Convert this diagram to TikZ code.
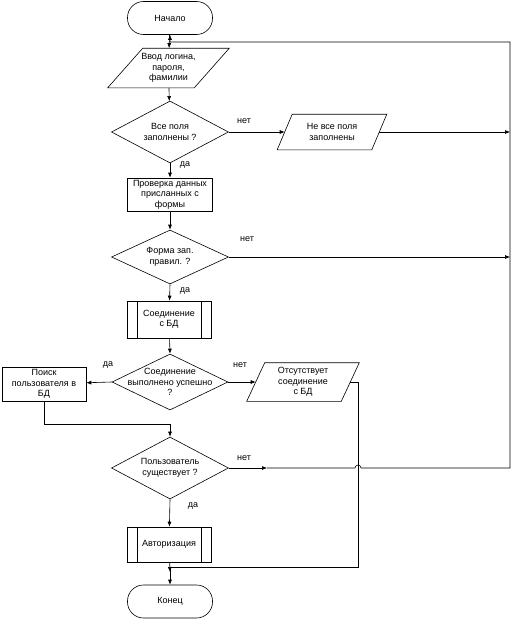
\documentclass[tikz,border=0pt]{standalone}
\usepackage{fontspec}
\setmainfont{Liberation Sans}
\usetikzlibrary{shapes.geometric,arrows.meta}
% slanted frame round an input/output node
\newcommand\ioframe[2]{\draw ([xshift=#2]#1.north west) -- ([xshift=#2]#1.north east) -- ([xshift=-#2]#1.south east) -- ([xshift=-#2]#1.south west) -- cycle;}
\begin{document}
\begin{tikzpicture}[x=1pt,y=-1pt,line width=0.6pt,
	font=\fontsize{9}{10.5}\selectfont,
	every node/.style={align=center},
	arr/.style={-{Latex[length=5pt,width=4pt]}},
	txt/.style={align=center,inner sep=0pt},
	term/.style={draw,rounded corners=16pt,minimum width=85pt,minimum height=33pt,inner sep=0pt},
	proc/.style={draw,minimum width=85pt,minimum height=33pt,inner sep=0pt},
	subproc/.style={draw,minimum width=84pt,minimum height=37pt,inner sep=0pt,
		path picture={\draw ([xshift=10pt]path picture bounding box.north west) -- ([xshift=10pt]path picture bounding box.south west)
			([xshift=-10pt]path picture bounding box.north east) -- ([xshift=-10pt]path picture bounding box.south east);}},
	dec/.style={draw,diamond,minimum width=117pt,minimum height=62pt,inner sep=0pt},
	io/.style={inner sep=0pt},
	]
			\useasboundingbox (0,0) rectangle (524,621);

			\node[term] (start) at (170,18) {Начало};
			\coordinate (j1) at (170,42);
			\node[io,minimum width=86pt,minimum height=39pt] (input) at (168.5,68) {Ввод логина,\\пароля,\\фамилии};
			\ioframe{input}{17.5pt}
			\node[dec,label={[txt]center:Все поля\\заполнены ?}] (d1) at (170,132) {};
			\node[io,minimum width=94pt,minimum height=35pt] (io2) at (332,132) {Не все поля\\заполнены};
			\ioframe{io2}{7.5pt}
			\node[proc] (check) at (170,194.5) {Проверка данных\\присланных с\\формы};
			\node[dec,minimum height=54pt,label={[txt]center:Форма зап.\\правил. ?}] (d2) at (170,257) {};
			\node[subproc] (conn) at (169,319.5) {Соединение\\с БД};
			\node[dec,minimum width=116pt,minimum height=56pt,label={[txt]center:Соединение\\выполнено успешно\\?}] (d3) at (170,382) {};
			\node[proc,minimum width=84pt,minimum height=34pt] (find) at (44,384) {Поиск\\пользователя в\\БД};
			\node[io,minimum width=94pt,minimum height=38pt] (io3) at (303,382) {Отсутствует\\соединение\\с БД};
			\ioframe{io3}{9pt}
			\node[dec,label={[txt]center:Пользователь\\существует ?}] (d4) at (170,468) {};
			\node[subproc,minimum height=35pt] (auth) at (169,544.5) {Авторизация};
			\coordinate (j2) at (170,567);
			\node[term] (end) at (170,601.5) {Конец};

			\coordinate (r1) at (510,132);
			\coordinate (r2) at (510,257);
			\coordinate (r4) at (510,468);
			\coordinate (mid) at (267,468);

			% labels
			\node (no1) at (244,121) {нет};
			\node (yes1) at (185,165) {да};
			\node (no2) at (247,239) {нет};
			\node (yes2) at (185,291) {да};
			\node (yes3) at (108,365) {да};
			\node (no3) at (240,365) {нет};
			\node (no4) at (244,458) {нет};
			\node (yes4) at (193,506) {да};

			\draw[arr] (start) -- (input);
			\draw[arr] (input) -- (d1);
			\draw[arr] (d1.east) -- (io2.west);
			\draw[arr] (io2.east) -- (r1);
			\draw[arr] (d1.south) -- (check);
			\draw[arr] (check) -- (d2.north);
			\draw[arr] (d2.east) -- (r2);
			\draw[arr] (d2.south) -- (conn);
			\draw[arr] (conn) -- (d3.north);
			\draw[arr] (d3.west) -- (find);
			\draw[arr] (d3.east) -- (io3.west);
			\draw (io3.east) -- (358,382) -- (358,567) -- (j2);
			\draw[arr] (find.south) -- (44,424) -- (170,424) -- (d4.north);
			\draw[arr] (d4.east) -- (mid);
			\draw[arr] (mid) -- (355,468) arc[start angle=180,end angle=360,radius=3] -- (r4) -- (510,42) -- (j1) -- (start.south);
			\draw[arr] (d4.south) -- (auth);
			\draw[arr] (auth) -- ([yshift=-5pt]j2);
			\draw[arr] (j2) -- (end);

		\end{tikzpicture}
\end{document}
